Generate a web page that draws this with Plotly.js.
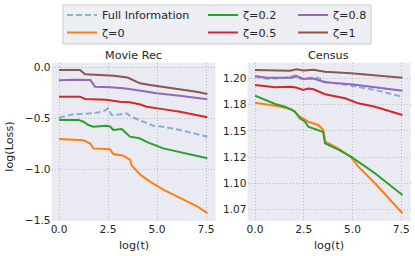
<!DOCTYPE html>
<html>
<head>
<meta charset="utf-8">
<script src="https://cdn.plot.ly/plotly-3.0.1.min.js"></script>
<style>html,body{margin:0;padding:0;background:#fff;}#chart{width:415px;height:256px;}</style>
</head>
<body>
<div id="chart"></div>
<script>
// ---- Data: Movie Rec ----
const mrFullX = [0, 0.73, 1.75, 2.25, 2.5, 2.68, 3.1, 3.45, 3.67, 4.1, 4.81, 5.3, 6.17, 7.57];
const mrFullY = [-0.494, -0.461, -0.45, -0.435, -0.402, -0.468, -0.462, -0.45, -0.484, -0.517, -0.572, -0.582, -0.615, -0.68];

const mrZ0X = [0, 1.24, 1.58, 1.75, 2.6, 2.77, 3.28, 3.62, 3.7, 4.13, 4.64, 5.32, 6.17, 7.02, 7.57];
const mrZ0Y = [-0.703, -0.715, -0.745, -0.795, -0.804, -0.85, -0.866, -0.905, -0.96, -1.05, -1.12, -1.2, -1.28, -1.36, -1.43];

const mrZ02X = [0, 1.0, 1.25, 1.5, 1.75, 2.4, 2.6, 2.77, 3.2, 3.35, 3.62, 4.1, 4.56, 5.32, 6.17, 7.57];
const mrZ02Y = [-0.517, -0.517, -0.533, -0.566, -0.582, -0.572, -0.58, -0.615, -0.605, -0.631, -0.68, -0.696, -0.739, -0.795, -0.833, -0.892];

const mrZ05X = [0, 1.07, 1.33, 2.4, 3.1, 3.6, 4.1, 4.47, 5.3, 6.17, 7.57];
const mrZ05Y = [-0.288, -0.288, -0.31, -0.318, -0.337, -0.343, -0.363, -0.386, -0.41, -0.435, -0.49];

const mrZ08X = [0, 0.7, 1.6, 1.84, 2.6, 3.28, 4.1, 4.98, 6.17, 7.57];
const mrZ08Y = [-0.128, -0.122, -0.125, -0.19, -0.196, -0.206, -0.228, -0.255, -0.278, -0.314];

const mrZ1X = [0, 1.07, 1.33, 2.5, 2.8, 3.5, 3.78, 4.13, 4.64, 5.3, 6.17, 7.02, 7.57];
const mrZ1Y = [-0.026, -0.026, -0.069, -0.075, -0.082, -0.1, -0.125, -0.157, -0.174, -0.19, -0.216, -0.239, -0.262];

// ---- Data: Census ----
const ceFullX = [0, 0.6, 1.5, 2.14, 2.3, 2.65, 3.1, 3.4, 3.59, 4.92, 6.15, 7.56];
const ceFullY = [1.2016, 1.1995, 1.2002, 1.2031, 1.1995, 1.2002, 1.2010, 1.1993, 1.1968, 1.193, 1.1889, 1.1825];

const ceZ0X = [0, 1.03, 1.88, 2.3, 2.73, 3.25, 3.5, 3.59, 4.3, 4.92, 5.3, 6.15, 7.56];
const ceZ0Y = [1.1768, 1.174, 1.1705, 1.1635, 1.1587, 1.1556, 1.1509, 1.140, 1.133, 1.125, 1.116, 1.1002, 1.0717];

const ceZ02X = [0, 1.03, 1.54, 2.05, 2.3, 2.56, 2.73, 3.25, 3.5, 3.59, 4.3, 4.92, 5.3, 6.15, 7.56];
const ceZ02Y = [1.1835, 1.1756, 1.173, 1.1683, 1.162, 1.1587, 1.154, 1.1509, 1.149, 1.1382, 1.132, 1.1255, 1.1207, 1.1097, 1.0891];

const ceZ05X = [0, 1.03, 1.88, 2.14, 2.48, 2.73, 3.0, 3.59, 4.62, 5.3, 6.15, 7.56];
const ceZ05Y = [1.1936, 1.1914, 1.192, 1.191, 1.1889, 1.1902, 1.1895, 1.1848, 1.181, 1.1762, 1.173, 1.1651];

const ceZ08X = [0, 0.6, 1.88, 2.14, 2.48, 2.99, 3.59, 4.92, 6.15, 7.56];
const ceZ08Y = [1.2022, 1.2006, 1.2006, 1.202, 1.1993, 1.1998, 1.1962, 1.1943, 1.1914, 1.1882];

const ceZ1X = [0, 1.79, 2.14, 2.48, 2.99, 3.59, 4.92, 6.15, 7.56];
const ceZ1Y = [1.2079, 1.2072, 1.2085, 1.2075, 1.208, 1.2063, 1.2048, 1.2031, 1.2006];

// ---- Labels ----
const seriesNames = ['Full Information', 'ζ=0', 'ζ=0.2', 'ζ=0.5', 'ζ=0.8', 'ζ=1'];
const subplotTitles = ['Movie Rec', 'Census'];
const xTitle = 'log(t)';
const yTitle = 'log(Loss)';
const mrTickVals = [-1.5, -1.0, -0.5, 0.0];
const mrTickText = ['−1.5', '−1.0', '−0.5', '0.0'];
const ceTickVals = [1.075, 1.1, 1.125, 1.15, 1.175, 1.2];
const ceTickText = ['1.07', '1.10', '1.12', '1.15', '1.18', '1.20'];
const xTickVals = [0, 2.5, 5, 7.5];
const xTickText = ['0.0', '2.5', '5.0', '7.5'];

const colors = ['rgba(31,119,180,0.5)', '#ff7f0e', '#2ca02c', '#d62728', '#9467bd', '#8c564b'];
const mrX = [mrFullX, mrZ0X, mrZ02X, mrZ05X, mrZ08X, mrZ1X];
const mrY = [mrFullY, mrZ0Y, mrZ02Y, mrZ05Y, mrZ08Y, mrZ1Y];
const ceX = [ceFullX, ceZ0X, ceZ02X, ceZ05X, ceZ08X, ceZ1X];
const ceY = [ceFullY, ceZ0Y, ceZ02Y, ceZ05Y, ceZ08Y, ceZ1Y];
const legendIds = ['legend', 'legend2', 'legend3', 'legend4', 'legend5', 'legend6'];

const FONT = 'DejaVu Sans';
const TXT = '#262626';
const traces = [];
for (let i = 0; i < 6; i++) {
  traces.push({
    x: mrX[i], y: mrY[i], xaxis: 'x', yaxis: 'y', type: 'scatter', mode: 'lines',
    name: seriesNames[i], legend: legendIds[i], showlegend: true,
    line: {color: colors[i], width: 2, dash: i === 0 ? '6px,3px' : 'solid'}
  });
}
for (let i = 0; i < 6; i++) {
  traces.push({
    x: ceX[i], y: ceY[i], xaxis: 'x2', yaxis: 'y2', type: 'scatter', mode: 'lines',
    name: seriesNames[i], showlegend: false,
    line: {color: colors[i], width: 2, dash: i === 0 ? '6px,3px' : 'solid'}
  });
}

const W = 415, H = 256;
const px = v => v / W;
const py = v => 1 - v / H;

const legPos = [[62, 0.5], [62, 18], [203, 0.5], [203, 18], [293, 0.5], [293, 18]];
const legends = {};
legPos.forEach((p, i) => {
  legends[legendIds[i]] = {
    x: px(p[0]), y: py(p[1]), xanchor: 'left', yanchor: 'top',
    bgcolor: 'rgba(0,0,0,0)', borderwidth: 0,
    font: {family: FONT, size: 11.2, color: TXT}, orientation: 'v'
  };
});

const GRID = {showgrid: true, gridcolor: '#bcbcc4', griddash: '1.2px,1.8px', gridwidth: 1,
  zeroline: false, showline: false, ticks: ''};
const axX = Object.assign({
  range: [-0.38, 7.98], tickvals: xTickVals, ticktext: xTickText,
  tickfont: {family: FONT, size: 10.6, color: TXT}
}, GRID);
const domY = [0.137, 0.755];

const layout = Object.assign({
  width: W, height: H,
  margin: {l: 0, r: 0, t: 0, b: 0},
  paper_bgcolor: '#ffffff', plot_bgcolor: '#eaeaf2',
  font: {family: FONT, color: TXT},
  xaxis: Object.assign({}, axX, {domain: [px(51.6), px(215.4)], anchor: 'y'}),
  xaxis2: Object.assign({}, axX, {domain: [px(247.6), px(410.6)], anchor: 'y2'}),
  yaxis: Object.assign({
    domain: domY, anchor: 'x', range: [-1.506, 0.045],
    tickvals: mrTickVals, ticktext: mrTickText,
    tickfont: {family: FONT, size: 10.6, color: TXT}
  }, GRID),
  yaxis2: Object.assign({
    domain: domY, anchor: 'x2', range: [1.0644, 1.2148],
    tickvals: ceTickVals, ticktext: ceTickText,
    tickfont: {family: FONT, size: 10.6, color: TXT}
  }, GRID),
  shapes: [{
    type: 'rect', xref: 'paper', yref: 'paper',
    x0: px(63), x1: px(371), y0: py(44), y1: py(5),
    fillcolor: '#eeeef5', line: {color: '#cccccc', width: 1}, layer: 'above'
  }],
  annotations: [
    {text: subplotTitles[0], xref: 'paper', yref: 'paper', x: px(133), y: py(55), xanchor: 'center', yanchor: 'middle', showarrow: false, font: {family: FONT, size: 11.2, color: TXT}},
    {text: subplotTitles[1], xref: 'paper', yref: 'paper', x: px(328), y: py(55), xanchor: 'center', yanchor: 'middle', showarrow: false, font: {family: FONT, size: 11.2, color: TXT}},
    {text: xTitle, xref: 'paper', yref: 'paper', x: px(133.5), y: py(245), xanchor: 'center', yanchor: 'middle', showarrow: false, font: {family: FONT, size: 11.2, color: TXT}},
    {text: xTitle, xref: 'paper', yref: 'paper', x: px(328.5), y: py(245), xanchor: 'center', yanchor: 'middle', showarrow: false, font: {family: FONT, size: 11.2, color: TXT}},
    {text: yTitle, xref: 'paper', yref: 'paper', x: px(10), y: py(146.7), xanchor: 'center', yanchor: 'middle', textangle: -90, showarrow: false, font: {family: FONT, size: 11.2, color: TXT}}
  ]
}, legends);

Plotly.newPlot('chart', traces, layout, {displayModeBar: false, staticPlot: true});
</script>
</body>
</html>
